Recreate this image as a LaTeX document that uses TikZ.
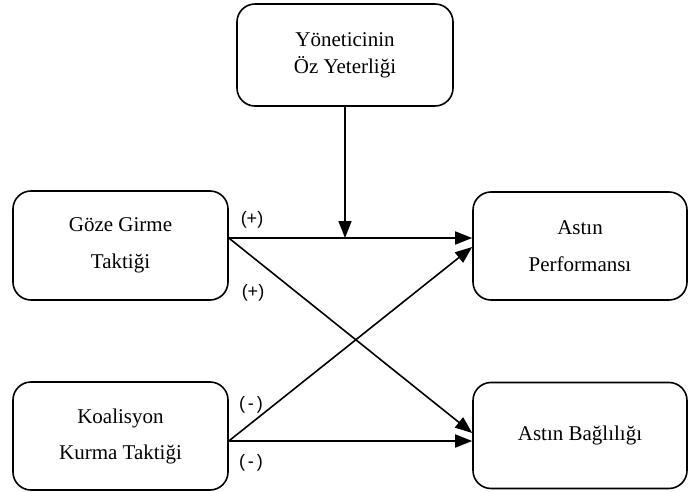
\documentclass[tikz,border=0pt]{standalone}
\usepackage{fontspec}
\setmainfont{Liberation Serif}
\newfontfamily\signfont{Liberation Sans}
\usetikzlibrary{calc}
\usetikzlibrary{arrows.meta}
\tikzset{
  every picture/.style={
    line width=1.6pt,
    >={Triangle[width=13pt, length=17pt]}
  },
  varbox/.style={
    draw, rounded corners=18pt, align=center,
    font=\fontsize{21}{25}\selectfont
  },
  sign/.style={
    font=\signfont\fontsize{18}{20}\selectfont, inner sep=0pt
  }
}
\begin{document}
\begin{tikzpicture}[x=1pt, y=-1pt]
  \useasboundingbox (0,0) rectangle (691,492);
  \node [varbox, minimum width=216pt, minimum height=102pt,
    font=\fontsize{21}{27}\selectfont] (ynt) at (345,55)
    {Yöneticinin\\Öz Yeterliği};
  \node [varbox, minimum width=215pt, minimum height=109pt] (goze) at (120.5,245.5)
    {Göze Girme\\[12pt]Taktiği};
  \node [varbox, minimum width=215pt, minimum height=108pt] (koal) at (120.5,436)
    {Koalisyon\\[11pt]Kurma Taktiği};
  \node [varbox, minimum width=214pt, minimum height=108pt] (perf) at (580,246)
    {Astın\\[12pt]Performansı};
  \node [varbox, minimum width=214pt, minimum height=106pt] (bagl) at (580,435.5)
    {Astın Bağlılığı};

  \coordinate (gz) at ($(goze.east)+(0,-7.5)$);
  \coordinate (kz) at ($(koal.east)+(0,5)$);

  % paths between the boxes
  \draw [->] (gz) -- ($(perf.west)+(0,-8)$);
  \draw [->] (gz) -- ($(bagl.west)+(0,-2.5)$);
  \draw [->] (kz) -- ($(perf.west)+(0,1)$);
  \draw [->] (kz) -- ($(bagl.west)+(0,5.5)$);
  \draw [->] (ynt.south) -- (ynt.south |- gz);

  \node [sign] (s1) at (252,220) {(+)};
  \node [sign] (s2) at (253,293) {(+)};
  \node [sign] (s3) at (251,405) {(\,-\,)};
  \node [sign] (s4) at (251,463) {(\,-\,)};
\end{tikzpicture}
\end{document}
